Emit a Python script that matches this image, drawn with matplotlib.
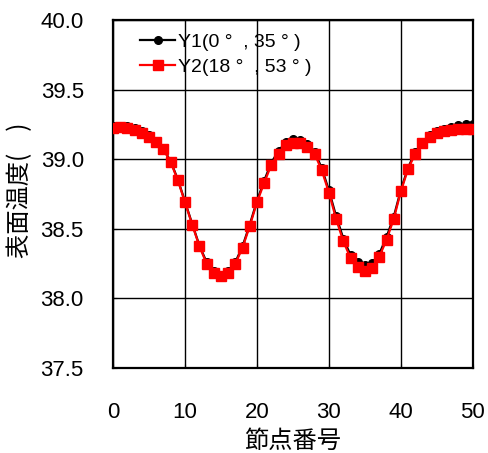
import numpy as np
import matplotlib
matplotlib.use('Agg')
import matplotlib.pyplot as plt

plt.rcParams['font.family'] = ['Liberation Sans', 'Noto Sans CJK JP', 'DejaVu Sans']

# node numbers and surface temperature for the two cases
nodes = list(range(51))
y1 = [39.235, 39.24, 39.235, 39.225, 39.20, 39.17, 39.13, 39.075, 38.985, 38.855,
      38.695, 38.535, 38.38, 38.26, 38.195, 38.17, 38.195, 38.26, 38.375, 38.53,
      38.70, 38.845, 38.975, 39.06, 39.12, 39.145, 39.14, 39.11, 39.055, 38.935,
      38.775, 38.59, 38.43, 38.31, 38.26, 38.24, 38.255, 38.32, 38.44, 38.585,
      38.78, 38.94, 39.05, 39.125, 39.17, 39.20, 39.215, 39.23, 39.245, 39.25, 39.25]
y2 = [39.224, 39.23, 39.224, 39.21, 39.19, 39.16, 39.12, 39.07, 38.98, 38.85,
      38.69, 38.53, 38.375, 38.25, 38.185, 38.16, 38.185, 38.25, 38.365, 38.52,
      38.69, 38.83, 38.96, 39.04, 39.10, 39.115, 39.115, 39.09, 39.04, 38.92,
      38.76, 38.57, 38.41, 38.29, 38.225, 38.20, 38.22, 38.30, 38.42, 38.57,
      38.77, 38.93, 39.04, 39.115, 39.16, 39.19, 39.20, 39.21, 39.215, 39.215, 39.215]
labels = ['Y1(0 °  , 35 ° )', 'Y2(18 °  , 53 ° )']
xticks = [0, 10, 20, 30, 40, 50]
yticks = [37.5, 38.0, 38.5, 39.0, 39.5, 40.0]

fig = plt.figure(figsize=(4.88, 4.53), dpi=100)
ax = fig.add_axes([0.2316, 0.1876, 0.7374, 0.7684])

ax.plot(nodes, y1, color='black', lw=1.6, marker='o', ms=5.5, label=labels[0], zorder=3)
ax.plot(nodes, y2, color='red', lw=1.6, marker='s', ms=6.8, label=labels[1], zorder=4)

ax.set_xlim(0, 50)
ax.set_ylim(37.5, 40.0)
ax.set_xticks(xticks)
ax.set_yticks(yticks)
ax.set_yticklabels(['%.1f' % v for v in yticks])
ax.grid(True, color='black', lw=1.0)
ax.tick_params(direction='in', length=3, labelsize=16)
ax.tick_params(axis='y', pad=21)
ax.tick_params(axis='x', pad=24.5)
for s in ax.spines.values():
    s.set_linewidth(1.6)

ax.set_xlabel('節点番号', fontsize=17.5, family=['Noto Sans CJK JP'])
ax.xaxis.set_label_coords(0.5, -0.172)
ax.set_ylabel('表面温度(    )', fontsize=17.5, family=['Noto Sans CJK JP'])
ax.yaxis.set_label_coords(-0.222, 0.51)

ax.legend(loc='upper left', frameon=False, fontsize=14, handlelength=1.8,
          handletextpad=0.15, labelspacing=0.4, borderaxespad=0, borderpad=0,
          bbox_to_anchor=(0.075, 0.962))

fig.savefig('out.png', dpi=100)
